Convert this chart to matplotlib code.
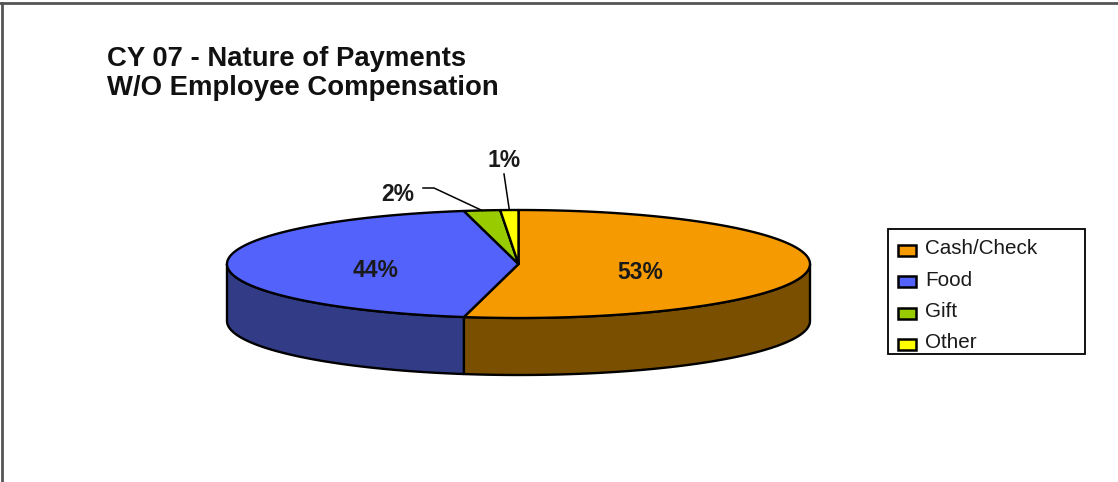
import matplotlib.pyplot as plt
import matplotlib.patches as mpatches
import numpy as np

plt.rcParams['font.family'] = ['Liberation Sans', 'DejaVu Sans']

# payment categories and their share of the total (percent)
categories = ["Cash/Check", "Food", "Gift", "Other"]
shares = [53, 44, 2, 1]
pct_labels = ["53%", "44%", "2%", "1%"]

top_colors = ["#F59A00", "#5262FA", "#99CC00", "#FFFF00"]
side_colors = ["#7A5000", "#323C86", "#4C6600", "#808000"]

title_lines = ["CY 07 - Nature of Payments", "W/O Employee Compensation"]

W, H = 1118, 482
fig = plt.figure(figsize=(W / 100, H / 100), dpi=100)
ax = fig.add_axes([0, 0, 1, 1])
ax.set_xlim(0, W)
ax.set_ylim(H, 0)
ax.axis("off")

# ellipse of the pie top, in pixel units
cx, cy, rx, ry, depth = 518.5, 264, 291.5, 54, 57


def rim(t):
    t = np.radians(t)
    return cx + rx * np.cos(t), cy - ry * np.sin(t)


fracs = np.array(shares, dtype=float) / sum(shares)
edges = 90 - 360 * np.concatenate([[0], np.cumsum(fracs)])

# side walls: only the front half of the rim (angles -180..0) is seen
for i in range(len(shares)):
    a0, a1 = edges[i], edges[i + 1]
    for lo, hi in [(-180, 0), (-540, -360)]:
        s, e = min(a0, hi), max(a1, lo)
        if s <= e:
            continue
        t = np.linspace(s, e, 80)
        x, y = rim(t)
        xs = np.concatenate([x, x[::-1]])
        ys = np.concatenate([y, y[::-1] + depth])
        ax.fill(xs, ys, facecolor=side_colors[i], edgecolor="black",
                linewidth=1.7, joinstyle="round")

# top face wedges
for i in range(len(shares)):
    t = np.linspace(edges[i], edges[i + 1], 200)
    x, y = rim(t)
    xs = np.concatenate([[cx], x, [cx]])
    ys = np.concatenate([[cy], y, [cy]])
    ax.fill(xs, ys, facecolor=top_colors[i], edgecolor="black",
            linewidth=1.7, joinstyle="round")

mids = (edges[:-1] + edges[1:]) / 2
lab_kw = dict(fontsize=16.5, fontweight="bold", color="#1a1a1a",
              ha="center", va="baseline")

# inside labels for the two large slices
for i, r in zip(range(2), [0.42, 0.49]):
    t = np.radians(mids[i])
    lx = cx + r * rx * np.cos(t)
    ly = cy - r * ry * np.sin(t) + 13
    ax.text(lx, ly, pct_labels[i], **lab_kw)

# outside labels with leader lines for the small slices
x2, y2 = rim(mids[2])
ax.plot([x2, 434, 423], [y2, 188, 188], color="black", lw=1.1)
ax.text(398, 201, pct_labels[2], **lab_kw)

x3, y3 = rim(mids[3])
ax.plot([x3, 504], [y3, 174], color="black", lw=1.1)
ax.text(504, 167, pct_labels[3], **lab_kw)

# title
for k, line in enumerate(title_lines):
    ax.text(107, 66 + 29 * k, line, fontsize=19.8, fontweight="bold",
            color="#111111", ha="left", va="baseline")

# legend box with one swatch per category
ax.add_patch(mpatches.Rectangle((888, 229), 197, 125, facecolor="white",
                                edgecolor="black", linewidth=1.3))
for k, (name, col) in enumerate(zip(categories, top_colors)):
    base = 254 + 31.5 * k
    ax.add_patch(mpatches.Rectangle((898, base - 9.5), 18, 11, facecolor=col,
                                    edgecolor="black", linewidth=1.8))
    ax.text(925, base, name, fontsize=14.9, color="#1a1a1a",
            ha="left", va="baseline")

# outer frame lines along the top and left edges
ax.plot([0, W], [3, 3], color="#555555", lw=2)
ax.plot([2, 2], [3, H], color="#555555", lw=2)

fig.savefig("out.png", dpi=100)
